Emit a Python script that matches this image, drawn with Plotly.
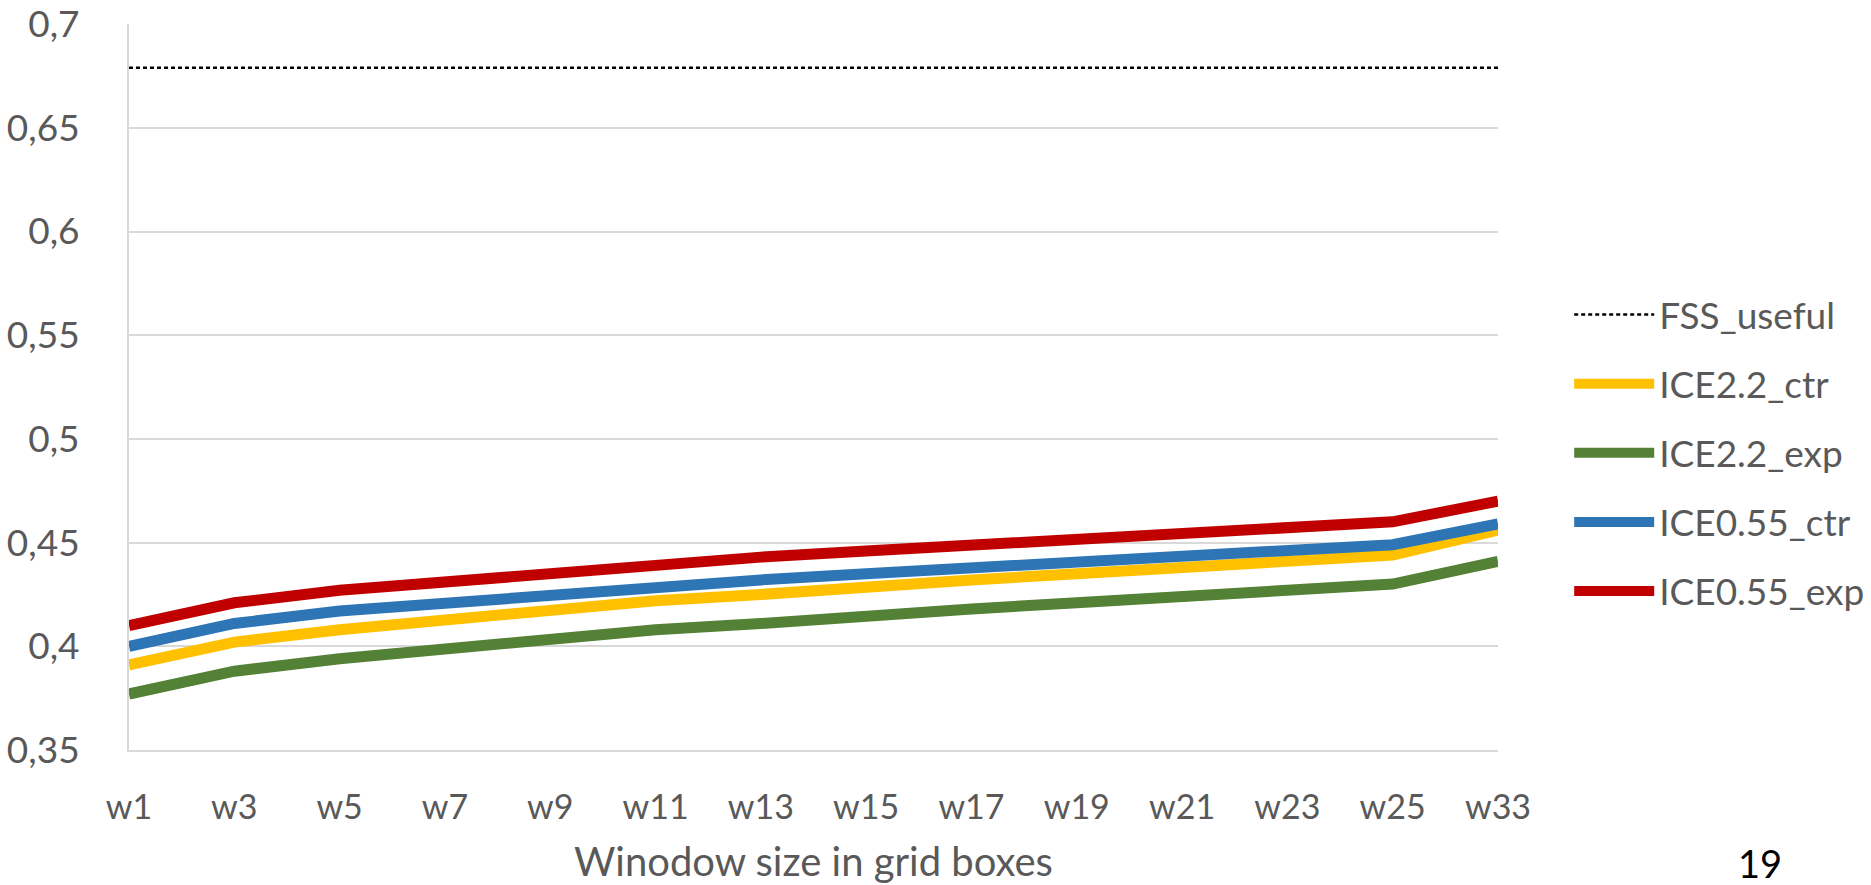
import plotly.graph_objects as go

# Window sizes along the x axis
windows = ["w1", "w3", "w5", "w7", "w9", "w11", "w13", "w15",
           "w17", "w19", "w21", "w23", "w25", "w33"]

# FSS scores per window size
fss_useful = [0.679] * len(windows)
ice22_ctr = [0.391, 0.402, 0.408, 0.413, 0.417, 0.422, 0.425, 0.429,
             0.432, 0.435, 0.438, 0.441, 0.444, 0.456]
ice22_exp = [0.377, 0.388, 0.394, 0.399, 0.403, 0.408, 0.411, 0.415,
             0.418, 0.421, 0.424, 0.427, 0.430, 0.441]
ice055_ctr = [0.400, 0.411, 0.417, 0.421, 0.425, 0.429, 0.432, 0.435,
              0.438, 0.440, 0.443, 0.446, 0.449, 0.459]
ice055_exp = [0.410, 0.421, 0.427, 0.431, 0.436, 0.440, 0.443, 0.446,
              0.449, 0.452, 0.455, 0.457, 0.460, 0.470]

y_tick_vals = [0.35, 0.40, 0.45, 0.50, 0.55, 0.60, 0.65, 0.70]
y_tick_text = ["0,35", "0,4", "0,45", "0,5", "0,55", "0,6", "0,65", "0,7"]

FONT = "Lato"
TEXT = "#595959"
GRID = "#D9D9D9"

series = [
    ("FSS_useful", fss_useful, "#000000", 2.5, "4px,3px"),
    ("ICE2.2_ctr", ice22_ctr, "#FFC000", 11, "solid"),
    ("ICE2.2_exp", ice22_exp, "#538135", 11, "solid"),
    ("ICE0.55_ctr", ice055_ctr, "#2E75B6", 11, "solid"),
    ("ICE0.55_exp", ice055_exp, "#C00000", 11, "solid"),
]

fig = go.Figure()
for name, vals, color, width, dash in series:
    fig.add_trace(go.Scatter(
        x=windows, y=vals, name=name, mode="lines",
        legendgroup=name,
        line=dict(color=color, width=width, dash=dash),
    ))

fig.update_layout(
    width=1871, height=885,
    margin=dict(l=129, r=373, t=24, b=135, autoexpand=False),
    paper_bgcolor="white", plot_bgcolor="white",
    separators=",.",
    font=dict(family=FONT, color=TEXT),
    showlegend=True,
    legend=dict(
        x=1.052, xanchor="left", y=0.409, yanchor="middle",
        font=dict(family=FONT, size=37, color=TEXT),
        tracegroupgap=18, itemwidth=80,
        bgcolor="rgba(0,0,0,0)",
    ),
    xaxis=dict(
        type="category", range=[0, len(windows) - 1],
        automargin=False,
        showgrid=False, zeroline=False,
        showline=True, linecolor=GRID, linewidth=2,
        ticks="", tickfont=dict(family=FONT, size=34, color=TEXT),
        ticklabelstandoff=26,
        title=dict(text="Winodow size in grid boxes",
                   font=dict(family=FONT, size=40, color=TEXT),
                   standoff=37),
    ),
    yaxis=dict(
        range=[0.35, 0.70005],
        automargin=False,
        tickvals=y_tick_vals, ticktext=y_tick_text,
        showgrid=True, gridcolor=GRID, gridwidth=2,
        zeroline=False,
        showline=True, linecolor=GRID, linewidth=2,
        ticks="", tickfont=dict(family=FONT, size=37, color=TEXT),
        ticklabelstandoff=40,
    ),
)

# slide page number
fig.add_annotation(
    text="19", xref="paper", yref="paper",
    x=(1760 - 129) / 1369, y=(750 - 863) / 726,
    xanchor="center", yanchor="middle", showarrow=False,
    font=dict(family=FONT, size=38, color="#000000"),
)

fig.write_html("out.html")
